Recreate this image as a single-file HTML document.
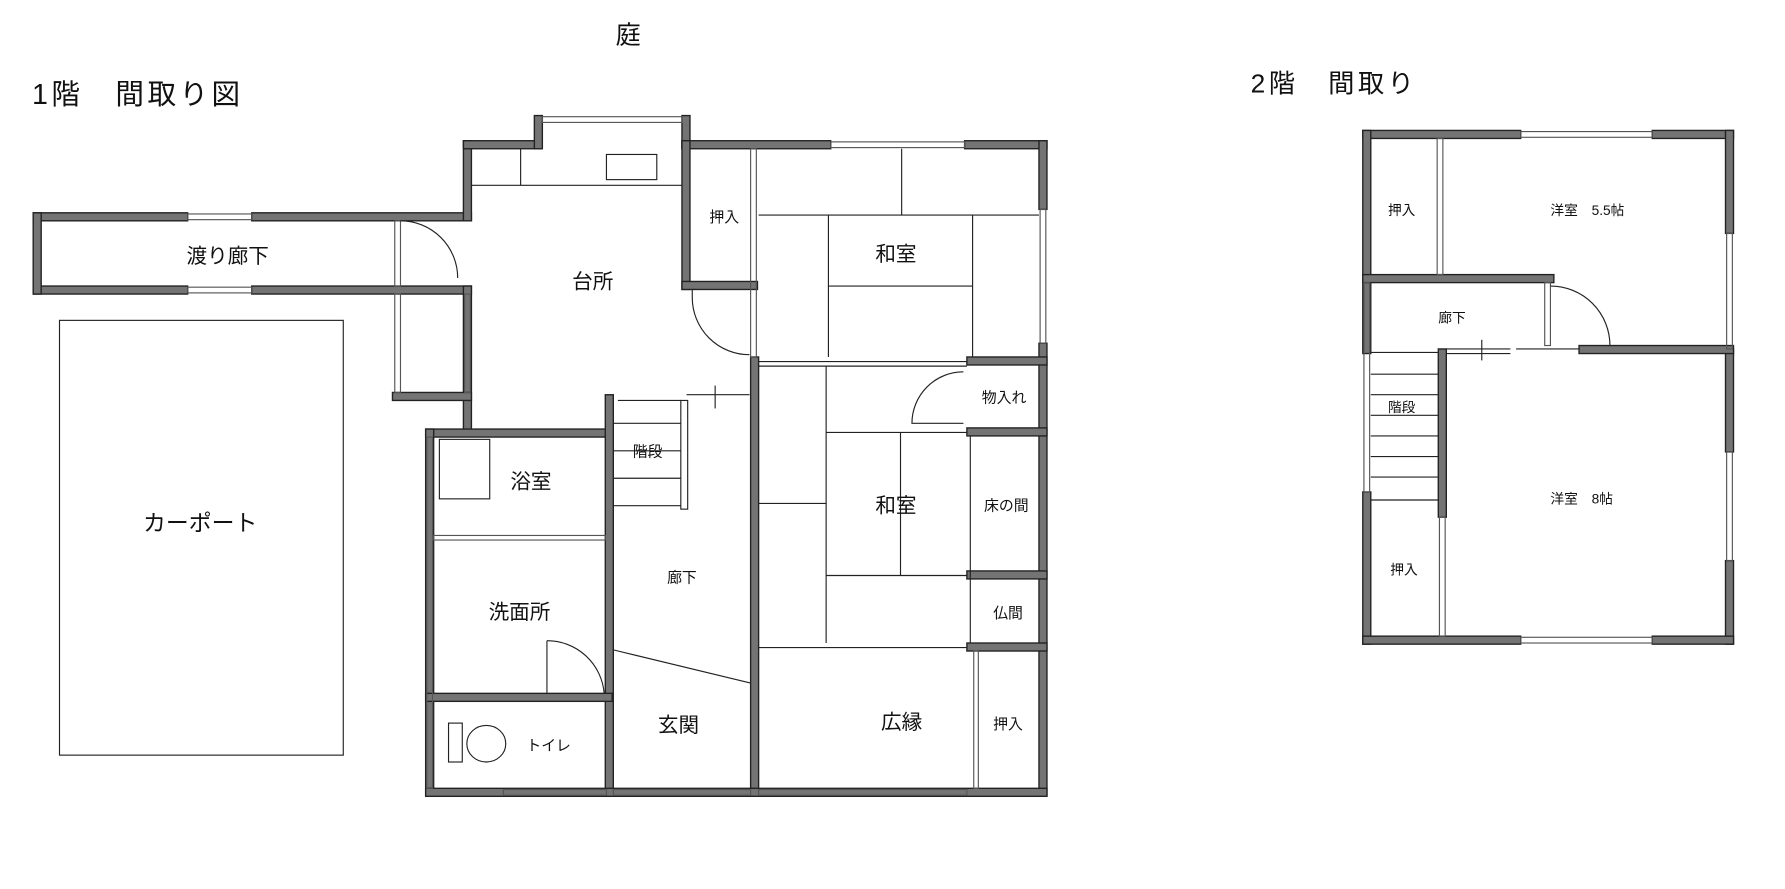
<!DOCTYPE html>
<html><head><meta charset="utf-8"><style>
html,body{margin:0;padding:0;background:#fff;}
svg{display:block;}
text{font-family:"Liberation Sans","Noto Sans CJK JP",sans-serif;fill:#111;}
.w{fill:#747474;stroke:#222;stroke-width:1.2;}
.t{stroke:#222;stroke-width:1;fill:none;}
.g{stroke:#555;stroke-width:1;fill:none;}
</style></head><body>
<svg width="1785" height="889" viewBox="0 0 1560 777" preserveAspectRatio="none" xmlns="http://www.w3.org/2000/svg">
<rect x="0" y="0" width="1560" height="777" fill="#fff"/>
<text x="538" y="38" font-size="22">庭</text>
<text x="28" y="91" font-size="25" letter-spacing="3">1階　間取り図</text>
<text x="1093" y="81" font-size="23" letter-spacing="3">2階　間取り</text>

<!-- carport -->
<rect x="52" y="280" width="248" height="380" class="t"/>
<text x="125" y="464" font-size="20">カーポート</text>

<!-- 1F walls -->
<g class="w">
<rect x="29" y="186" width="135" height="7"/><rect x="220" y="186" width="192" height="7"/>
<rect x="29" y="250" width="135" height="7"/><rect x="220" y="250" width="192" height="7"/>
<rect x="29" y="186" width="7" height="71"/>
<rect x="405" y="123" width="7" height="70"/>
<rect x="405" y="250" width="7" height="130"/>
<rect x="405" y="123" width="68" height="7"/>
<rect x="467" y="101" width="7" height="29"/><rect x="596" y="101" width="7" height="29"/>
<rect x="596" y="123" width="130" height="7"/><rect x="843" y="123" width="72" height="7"/>
<rect x="596" y="123" width="7" height="130"/>
<rect x="596" y="246" width="66" height="7"/>
<rect x="343" y="343" width="69" height="7"/>
<rect x="908" y="123" width="7" height="60"/><rect x="908" y="300" width="7" height="395"/>
<rect x="656" y="312" width="7" height="383"/>
<rect x="845" y="312" width="70" height="7"/>
<rect x="845" y="374" width="70" height="7"/>
<rect x="845" y="499" width="70" height="7"/>
<rect x="845" y="562" width="70" height="7"/>
<rect x="372" y="375" width="163" height="7"/>
<rect x="372" y="375" width="7" height="320"/>
<rect x="529" y="345" width="7" height="350"/>
<rect x="372" y="606" width="163" height="7"/>
<rect x="372" y="689" width="543" height="7"/>
</g>
<g class="g">
<rect x="164" y="187" width="56" height="5"/><rect x="164" y="251" width="56" height="5"/>
<rect x="474" y="102" width="122" height="5"/>
<rect x="726" y="124" width="117" height="5"/>
<rect x="909" y="183" width="5" height="117"/>
<rect x="345" y="193" width="5" height="57"/>
<rect x="345" y="257" width="5" height="86"/><rect x="406" y="257" width="5" height="86"/>
<rect x="656" y="130" width="5" height="182"/>
<rect x="373" y="382" width="5" height="307"/>
<rect x="379" y="468" width="150" height="4"/>
<rect x="440" y="690" width="90" height="5"/>
<rect x="536" y="690" width="120" height="5"/>
<rect x="663" y="690" width="182" height="5"/>
<rect x="851" y="569" width="4" height="120"/>
</g>
<g class="t">
<line x1="412" y1="162" x2="596" y2="162"/><line x1="455" y1="130" x2="455" y2="162"/>
<rect x="530" y="135" width="44" height="22"/>
<path d="M350 193 A50 50 0 0 1 400 243"/>
<path d="M605 260 A50 50 0 0 0 655 310"/><line x1="605" y1="253" x2="605" y2="260"/>
<path d="M842 325 A45 45 0 0 0 797 370 L842 370"/>
<path d="M478 560 A50 50 0 0 1 528 606"/><line x1="478" y1="560" x2="478" y2="606"/>
<line x1="663" y1="188" x2="908" y2="188"/>
<line x1="788" y1="130" x2="788" y2="188"/>
<line x1="724" y1="188" x2="724" y2="312"/><line x1="850" y1="188" x2="850" y2="312"/>
<line x1="724" y1="250" x2="850" y2="250"/>
<line x1="663" y1="316" x2="845" y2="316"/><line x1="663" y1="320" x2="845" y2="320"/>
<line x1="722" y1="320" x2="722" y2="562"/>
<line x1="722" y1="378" x2="845" y2="378"/>
<line x1="787" y1="378" x2="787" y2="503"/>
<line x1="663" y1="440" x2="722" y2="440"/>
<line x1="722" y1="503" x2="845" y2="503"/>
<line x1="848" y1="381" x2="848" y2="562"/>
<line x1="663" y1="566" x2="845" y2="566"/>
<line x1="540" y1="350" x2="595" y2="350"/><line x1="600" y1="345" x2="655" y2="345"/>
<line x1="625" y1="337" x2="625" y2="357"/>
<rect x="595" y="350" width="6" height="95"/>
<line x1="536" y1="370" x2="595" y2="370"/><line x1="536" y1="394" x2="595" y2="394"/>
<line x1="536" y1="418" x2="595" y2="418"/><line x1="536" y1="442" x2="595" y2="442"/>
<rect x="384" y="384" width="44" height="52"/>
<line x1="536" y1="568" x2="656" y2="597"/>
<rect x="392" y="632" width="12" height="34"/>
<ellipse cx="425" cy="650" rx="17" ry="16"/>
</g>
<g font-size="18">
<text x="163" y="230">渡り廊下</text>
<text x="500" y="252">台所</text>
<text x="765" y="228">和室</text>
<text x="765" y="448">和室</text>
<text x="446" y="427">浴室</text>
<text x="427" y="541">洗面所</text>
<text x="575" y="640">玄関</text>
<text x="770" y="637">広縁</text>
</g>
<g font-size="13">
<text x="620" y="194">押入</text>
<text x="858" y="352">物入れ</text>
<text x="860" y="446">床の間</text>
<text x="868" y="540">仏間</text>
<text x="868" y="637">押入</text>
<text x="553" y="399">階段</text>
<text x="583" y="509">廊下</text>
<text x="460" y="656">トイレ</text>
</g>

<!-- 2F -->
<g class="w">
<rect x="1191" y="114" width="138" height="7"/><rect x="1444" y="114" width="71" height="7"/>
<rect x="1191" y="114" width="7" height="195"/><rect x="1191" y="430" width="7" height="133"/>
<rect x="1508" y="114" width="7" height="90"/><rect x="1508" y="305" width="7" height="90"/><rect x="1508" y="490" width="7" height="73"/>
<rect x="1191" y="556" width="138" height="7"/><rect x="1444" y="556" width="71" height="7"/>
<rect x="1191" y="240" width="167" height="7"/>
<rect x="1380" y="302" width="135" height="7"/>
<rect x="1257" y="305" width="7" height="147"/>
</g>
<g class="g">
<rect x="1329" y="115" width="115" height="5"/><rect x="1329" y="557" width="115" height="5"/>
<rect x="1509" y="204" width="5" height="101"/><rect x="1509" y="395" width="5" height="95"/>
<rect x="1192" y="247" width="5" height="183"/>
<rect x="1256" y="121" width="5" height="119"/>
<rect x="1258" y="452" width="5" height="104"/>
<rect x="1350" y="247" width="5" height="55"/>
</g>
<g class="t">
<path d="M1355 250 A52 52 0 0 1 1407 302"/>
<line x1="1264" y1="305" x2="1320" y2="305"/><line x1="1264" y1="309" x2="1320" y2="309"/>
<line x1="1295" y1="297" x2="1295" y2="315"/>
<line x1="1325" y1="305" x2="1380" y2="305"/>
<line x1="1198" y1="308" x2="1257" y2="308"/>
<line x1="1198" y1="327" x2="1257" y2="327"/><line x1="1198" y1="345" x2="1257" y2="345"/>
<line x1="1198" y1="363" x2="1257" y2="363"/><line x1="1198" y1="381" x2="1257" y2="381"/>
<line x1="1198" y1="399" x2="1257" y2="399"/><line x1="1198" y1="417" x2="1257" y2="417"/>
<line x1="1198" y1="437" x2="1257" y2="437"/>
</g>
<g font-size="12">
<text x="1213" y="188">押入</text>
<text x="1355" y="188">洋室　5.5帖</text>
<text x="1257" y="282">廊下</text>
<text x="1213" y="360">階段</text>
<text x="1355" y="440">洋室　8帖</text>
<text x="1215" y="502">押入</text>
</g>
</svg>
</body></html>
